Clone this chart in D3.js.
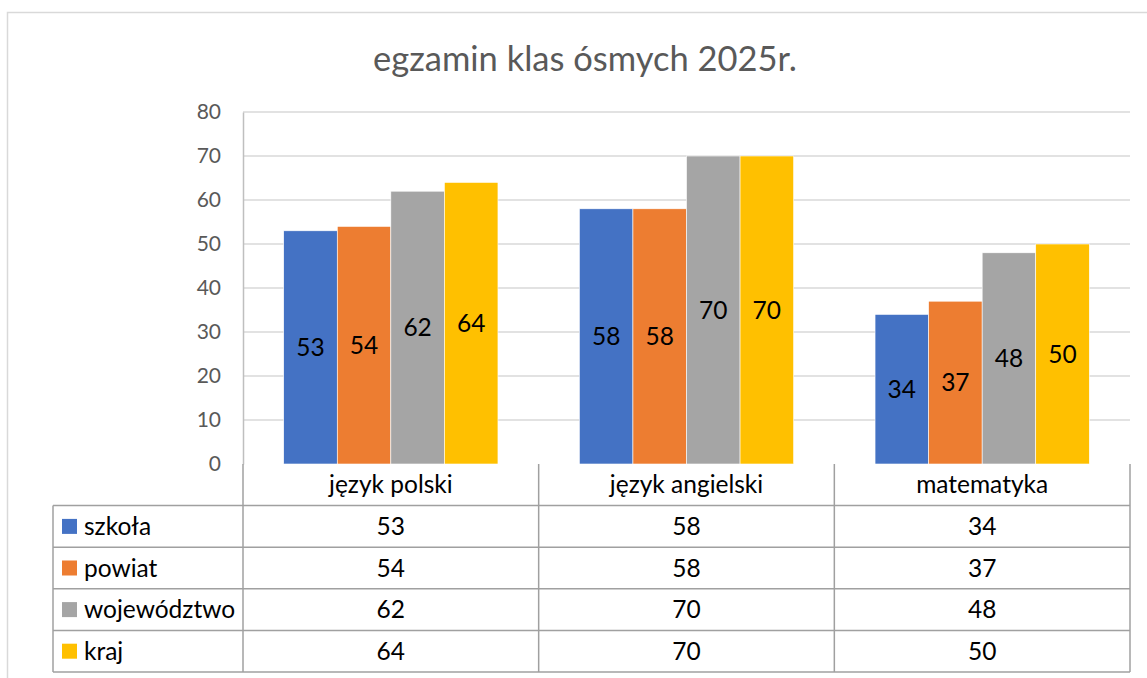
<!DOCTYPE html>
<html>
<head>
<meta charset="utf-8">
<script src="https://cdn.jsdelivr.net/npm/d3@7"></script>
<style>
  html, body { margin: 0; padding: 0; background: #fff; }
  svg { display: block; font-family: Lato, "Open Sans", sans-serif; }
</style>
</head>
<body>
<script>
// chart values
const categories = ["język polski", "język angielski", "matematyka"];
const seriesNames = ["szkoła", "powiat", "województwo", "kraj"];
const szkola = [53, 58, 34];
const powiat = [54, 58, 37];
const wojewodztwo = [62, 70, 48];
const kraj = [64, 70, 50];
const yTicks = [0, 10, 20, 30, 40, 50, 60, 70, 80];
const colours = ["#4472C4", "#ED7D31", "#A5A5A5", "#FFC000"];

const series = [szkola, powiat, wojewodztwo, kraj];

const W = 1147, H = 678;
const plot = {left: 243, right: 1130, top: 112, bottom: 464};
const rowH = 41.6;
const legendLeft = 53;
const FS = 24.5;  // table / label font size

const svg = d3.select("body").append("svg")
    .attr("width", W).attr("height", H);

// outer chart border (cut off on right and bottom)
svg.append("rect")
    .attr("x", 7.5).attr("y", 12.5)
    .attr("width", W + 20).attr("height", H + 20)
    .attr("fill", "none").attr("stroke", "#d9d9d9").attr("stroke-width", 1.5);

svg.append("text")
    .attr("x", 585).attr("y", 71)
    .attr("text-anchor", "middle")
    .attr("font-size", 34.5)
    .attr("fill", "#595959")
    .text("egzamin klas ósmych 2025r.");

const y = d3.scaleLinear().domain([0, 80]).range([plot.bottom, plot.top]);
const x0 = d3.scaleBand().domain(categories).range([plot.left, plot.right]);
const x1 = d3.scaleBand().domain(seriesNames)
    .range([0, x0.bandwidth()]).paddingOuter(0.76).paddingInner(0);

// gridlines
svg.append("g").selectAll("line")
    .data(yTicks.filter(t => t > 0))
    .join("line")
    .attr("x1", plot.left).attr("x2", plot.right)
    .attr("y1", d => y(d)).attr("y2", d => y(d))
    .attr("stroke", "#d9d9d9").attr("stroke-width", 1.5);

// y axis
const yAxis = svg.append("g")
    .attr("transform", `translate(${plot.left},0)`)
    .call(d3.axisLeft(y).tickValues(yTicks).tickSize(0).tickPadding(22));
yAxis.select(".domain").attr("stroke", "#bfbfbf").attr("stroke-width", 1.5);
yAxis.selectAll("text")
    .attr("font-size", 21).attr("fill", "#595959")
    .attr("font-family", "Lato, Open Sans, sans-serif");

// bars
const groups = svg.append("g").selectAll("g")
    .data(categories)
    .join("g")
    .attr("transform", d => `translate(${x0(d)},0)`);

groups.selectAll("rect")
    .data((c, ci) => seriesNames.map((s, si) => ({s, si, v: series[si][ci]})))
    .join("rect")
    .attr("x", d => x1(d.s))
    .attr("width", x1.bandwidth())
    .attr("y", d => y(d.v))
    .attr("height", d => y(0) - y(d.v))
    .attr("fill", d => colours[d.si])
    .attr("stroke", "#fff").attr("stroke-width", 0.6);

groups.selectAll("text")
    .data((c, ci) => seriesNames.map((s, si) => ({s, si, v: series[si][ci]})))
    .join("text")
    .attr("x", d => x1(d.s) + x1.bandwidth() / 2)
    .attr("y", d => (y(d.v) + y(0)) / 2)
    .attr("dy", "0.35em")
    .attr("text-anchor", "middle")
    .attr("font-size", FS)
    .attr("fill", "#000")
    .text(d => d.v);

// data table
const table = svg.append("g");
const lineCol = "#a0a0a0";
const tableBottom = plot.bottom + rowH * 5;

// horizontal lines
table.selectAll("line.h")
    .data(d3.range(1, 6))
    .join("line")
    .attr("class", "h")
    .attr("x1", legendLeft)
    .attr("x2", plot.right)
    .attr("y1", i => plot.bottom + rowH * i)
    .attr("y2", i => plot.bottom + rowH * i)
    .attr("stroke", lineCol).attr("stroke-width", 1.5);

// vertical lines
const vxs = [plot.left, ...categories.map(c => x0(c) + x0.bandwidth())];
table.selectAll("line.v")
    .data(vxs)
    .join("line")
    .attr("class", "v")
    .attr("x1", d => d).attr("x2", d => d)
    .attr("y1", plot.bottom).attr("y2", tableBottom)
    .attr("stroke", lineCol).attr("stroke-width", 1.5);

table.append("line")
    .attr("x1", legendLeft).attr("x2", legendLeft)
    .attr("y1", plot.bottom + rowH).attr("y2", tableBottom)
    .attr("stroke", lineCol).attr("stroke-width", 1.5);

// header labels
table.selectAll("text.cat")
    .data(categories)
    .join("text")
    .attr("class", "cat")
    .attr("x", d => x0(d) + x0.bandwidth() / 2)
    .attr("y", plot.bottom + rowH / 2)
    .attr("dy", "0.35em")
    .attr("text-anchor", "middle")
    .attr("font-size", FS)
    .text(d => d);

// legend rows
const rows = table.selectAll("g.row")
    .data(seriesNames)
    .join("g")
    .attr("class", "row")
    .attr("transform", (d, i) => `translate(0,${plot.bottom + rowH * (i + 1)})`);

rows.append("rect")
    .attr("x", 62).attr("y", rowH / 2 - 7.5)
    .attr("width", 15).attr("height", 15)
    .attr("fill", (d, i) => colours[i]);

rows.append("text")
    .attr("x", 84).attr("y", rowH / 2)
    .attr("dy", "0.35em")
    .attr("font-size", FS)
    .text(d => d);

rows.selectAll("text.val")
    .data((d, i) => series[i].map((v, ci) => ({v, c: categories[ci]})))
    .join("text")
    .attr("class", "val")
    .attr("x", d => x0(d.c) + x0.bandwidth() / 2)
    .attr("y", rowH / 2)
    .attr("dy", "0.35em")
    .attr("text-anchor", "middle")
    .attr("font-size", FS)
    .text(d => d.v);
</script>
</body>
</html>
